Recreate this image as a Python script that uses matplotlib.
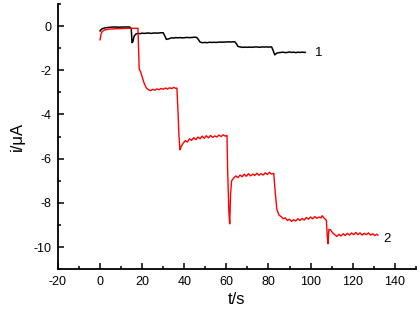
import matplotlib
matplotlib.use('Agg')
from matplotlib import pyplot as plt
from matplotlib.ticker import MultipleLocator

plt.rcParams['font.family'] = ['Liberation Sans', 'DejaVu Sans']
plt.rcParams['axes.unicode_minus'] = False

# curve 1 (black)
t1 = [0, 0.5, 1, 2, 3, 5, 7, 9, 11, 13, 14, 14.8, 15.2, 15.6, 16.2, 17, 18, 19, 20, 21,
      22, 23, 24, 25, 26, 27, 28, 29, 30, 30.8, 31.5, 32.5, 34, 35, 36, 37, 38, 39, 40,
      41, 42, 43, 44, 45, 46, 46.8, 47.5, 48.5, 50, 51, 52, 53, 54, 55, 56, 57, 58, 59,
      60, 61, 62, 63, 64, 64.8, 65.5, 67, 68, 69, 70, 71, 72, 73, 74, 75, 76, 77, 78, 79,
      80, 81.5, 82.2, 83, 84, 85, 86, 87, 88, 89, 90, 91, 92, 93, 94, 95, 96, 97.5]
i1 = [-0.22, -0.16, -0.12, -0.09, -0.07, -0.05, -0.04, -0.05, -0.04, -0.04, -0.04, -0.1,
      -0.75, -0.7, -0.45, -0.36, -0.33, -0.34, -0.32, -0.33, -0.32, -0.31, -0.33, -0.32,
      -0.31, -0.32, -0.31, -0.3, -0.3, -0.45, -0.6, -0.58, -0.53, -0.54, -0.52, -0.53,
      -0.52, -0.53, -0.53, -0.51, -0.52, -0.52, -0.51, -0.5, -0.52, -0.62, -0.72, -0.75,
      -0.74, -0.75, -0.73, -0.74, -0.73, -0.74, -0.73, -0.72, -0.73, -0.72, -0.72, -0.71,
      -0.72, -0.71, -0.71, -0.8, -0.92, -0.95, -0.96, -0.95, -0.96, -0.95, -0.96, -0.95,
      -0.94, -0.95, -0.96, -0.94, -0.95, -0.94, -0.95, -0.94, -1.1, -1.3, -1.22, -1.2,
      -1.19, -1.18, -1.2, -1.19, -1.17, -1.19, -1.18, -1.2, -1.18, -1.19, -1.18, -1.19]

# curve 2 (red)
t2 = [0, 0.5, 1, 2, 4, 7, 10, 14, 18, 18.3, 18.6, 19.2, 20, 21, 22, 23, 24, 25, 26, 27,
      28, 29, 30, 31, 32, 33, 34, 35, 36, 36.5, 37, 37.5, 38, 38.5, 39.5, 40.5, 41.5, 42.5,
      43.5, 44.5, 45.5, 46.5, 47.5, 48.5, 49.5, 50.5, 51.5, 52.5, 53.5, 54.5, 55.5, 56.5,
      57.5, 58.5, 59.5, 60.3, 60.6, 61.2, 61.6, 62, 62.5, 63.5, 64.5, 65.5, 66.5, 67.5,
      68.5, 69.5, 70.5, 71.5, 72.5, 73.5, 74.5, 75.5, 76.5, 77.5, 78.5, 79.5, 80.5, 81.5,
      82.5, 83.2, 84, 85, 86, 87, 88, 89, 90, 91, 92, 93, 94, 95, 96, 97, 98, 99, 100,
      101, 102, 103, 104, 105, 105.5, 106.5, 107.5, 108, 108.3, 108.7, 109.5, 110.5, 111.5,
      112.5, 113.5, 114.5, 115.5, 116.5, 117.5, 118.5, 119.5, 120.5, 121.5, 122.5, 123.5,
      124.5, 125.5, 126.5, 127.5, 128.5, 129.5, 130.5, 131.5, 132]
i2 = [-0.62, -0.35, -0.25, -0.18, -0.14, -0.12, -0.11, -0.1, -0.1, -1.0, -1.95, -2.05,
      -2.3, -2.6, -2.8, -2.88, -2.92, -2.86, -2.9, -2.84, -2.88, -2.82, -2.86, -2.8,
      -2.85, -2.79, -2.83, -2.77, -2.82, -2.8, -3.8, -5.0, -5.6, -5.45, -5.3, -5.18,
      -5.25, -5.1, -5.17, -5.05, -5.14, -5.02, -5.1, -4.98, -5.08, -4.96, -5.06, -4.95,
      -5.04, -4.97, -5.02, -4.93, -5.0, -4.92, -4.98, -4.95, -6.5, -8.4, -8.95, -7.6,
      -7.0, -6.88, -6.78, -6.86, -6.74, -6.82, -6.7, -6.8, -6.68, -6.78, -6.7, -6.76,
      -6.66, -6.75, -6.68, -6.74, -6.64, -6.72, -6.62, -6.7, -6.66, -7.5, -8.3, -8.55,
      -8.62, -8.72, -8.68, -8.8, -8.74, -8.84, -8.76, -8.82, -8.72, -8.8, -8.7, -8.78,
      -8.66, -8.74, -8.64, -8.72, -8.62, -8.7, -8.64, -8.68, -8.58, -8.7, -8.78, -9.6,
      -9.85, -9.2, -9.22, -9.36, -9.44, -9.52, -9.42, -9.5, -9.4, -9.48, -9.38, -9.46,
      -9.36, -9.44, -9.34, -9.44, -9.36, -9.46, -9.38, -9.44, -9.36, -9.46, -9.4, -9.48,
      -9.42, -9.46]

fig = plt.figure(figsize=(4.2, 3.09), dpi=100)
ax = fig.add_axes([0.138, 0.129, 0.852, 0.858])
ax.plot(t1, i1, color='black', lw=1.1)
ax.plot(t2, i2, color='red', lw=1.0)

ax.text(102, -1.2, '1', fontsize=9.5, va='center', ha='left')
ax.text(134.5, -9.65, '2', fontsize=9.5, va='center', ha='left')

ax.set_xlim(-20, 150)
ax.set_ylim(-11, 1)
ax.xaxis.set_major_locator(MultipleLocator(20))
ax.xaxis.set_minor_locator(MultipleLocator(10))
ax.yaxis.set_major_locator(MultipleLocator(2))
ax.yaxis.set_minor_locator(MultipleLocator(1))
ax.spines['top'].set_visible(False)
ax.spines['right'].set_visible(False)
ax.spines['left'].set_linewidth(1.3)
ax.spines['bottom'].set_linewidth(1.3)
ax.tick_params(which='both', direction='in', labelsize=9, width=1.1)
ax.tick_params(which='major', length=4, pad=5)
ax.tick_params(which='minor', length=2.5)
ax.set_xlabel('t/s', fontsize=12, labelpad=3)
ax.set_ylabel('i/\u03bcA', fontsize=12, labelpad=6)

plt.savefig('out.png')
plt.close(fig)
